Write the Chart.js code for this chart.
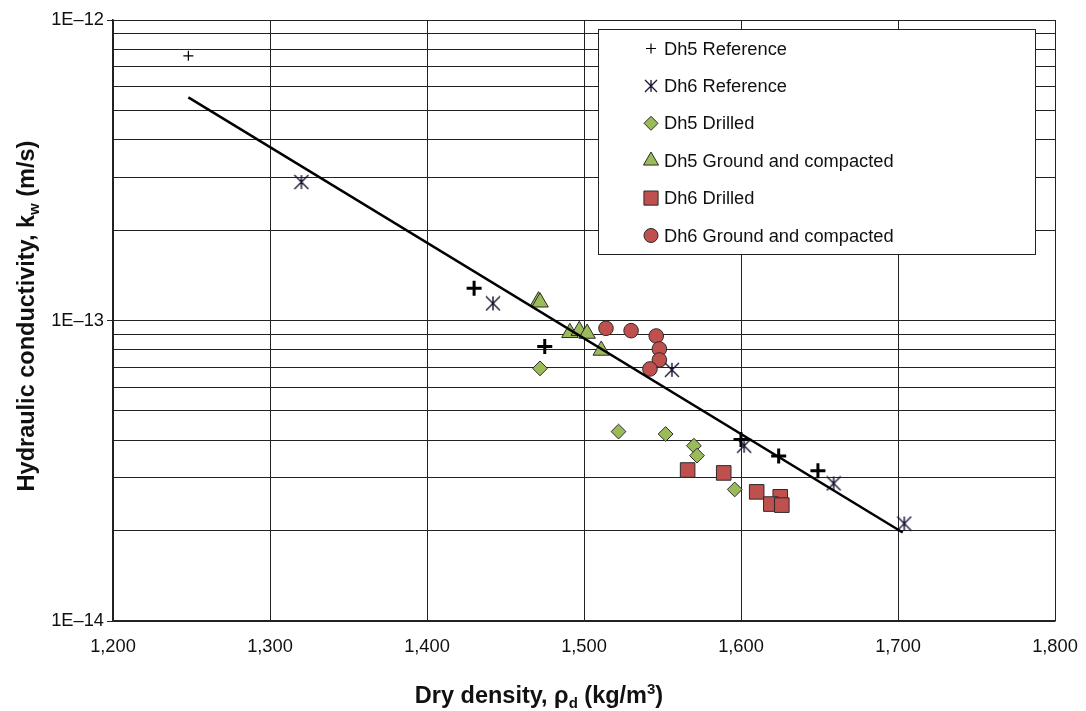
<!DOCTYPE html>
<html>
<head>
<meta charset="utf-8">
<script src="https://cdn.jsdelivr.net/npm/chart.js@4.4.1/dist/chart.umd.min.js"></script>
<style>
  html, body { margin: 0; background: #fff; }
  #wrap { width: 1086px; height: 711px; }
</style>
</head>
<body>
<div id="wrap"><canvas id="kw-chart"></canvas></div>
<script>
const FONT = "'Liberation Sans', Arial, Helvetica, sans-serif";

// dry density (kg/m3) and hydraulic conductivity kw (m/s)
const DH5_REF_X = [1248, 1430, 1475, 1600, 1624, 1649];
const DH5_REF_Y = [7.6e-13, 1.28e-13, 8.2e-14, 4.02e-14, 3.54e-14, 3.16e-14];
const DH6_REF_X = [1320, 1442, 1556, 1602, 1659, 1704];
const DH6_REF_Y = [2.89e-13, 1.14e-13, 6.85e-14, 3.83e-14, 2.87e-14, 2.11e-14];
const DH5_DRILL_X = [1472, 1522, 1552, 1570, 1572, 1596];
const DH5_DRILL_Y = [6.93e-14, 4.27e-14, 4.19e-14, 3.83e-14, 3.55e-14, 2.74e-14];
const DH5_GC_X = [1471, 1472, 1491, 1497, 1502, 1511];
const DH5_GC_Y = [1.16e-13, 1.15e-13, 9.1e-14, 9.25e-14, 9.05e-14, 7.95e-14];
const DH6_DRILL_X = [1566, 1589, 1610, 1625, 1619, 1626];
const DH6_DRILL_Y = [3.18e-14, 3.11e-14, 2.69e-14, 2.59e-14, 2.45e-14, 2.43e-14];
const DH6_GC_X = [1514, 1530, 1546, 1548, 1548, 1542];
const DH6_GC_Y = [9.42e-14, 9.25e-14, 8.88e-14, 8.04e-14, 7.39e-14, 6.9e-14];

// trend line end points
const FIT_X = [1248, 1703];
const FIT_Y = [5.53e-13, 1.97e-14];

const X_TICKS = [1200, 1300, 1400, 1500, 1600, 1700, 1800];
const Y_DECADES = [1e-14, 1e-13, 1e-12];
const Y_MANTISSAS = [1, 2, 3, 4, 5, 6, 7, 8, 9];

const GREEN = '#9bbb59';
const RED = '#c0504d';
const EDGE = '#2b2b2b';
const STAR_INK = '#121230';
const TICK_SIZE = 18.3;

const toPoints = (xs, ys) => xs.map((x, i) => ({x, y: ys[i]}));

// six-armed star marker (X with a vertical bar)
function makeStar(size, color, width) {
    const c = document.createElement('canvas');
    c.width = size;
    c.height = size;
    const g = c.getContext('2d');
    g.strokeStyle = color;
    g.lineWidth = width;
    const p = 1, q = size - 1, m = size / 2;
    g.beginPath();
    g.moveTo(p, p); g.lineTo(q, q);
    g.moveTo(q, p); g.lineTo(p, q);
    g.moveTo(m, p); g.lineTo(m, q);
    g.stroke();
    return c;
}
const STAR = makeStar(16, STAR_INK, 1.4);
const STAR_SMALL = makeStar(14, STAR_INK, 1.3);

const isDecade = v => {
    const e = Math.log10(v);
    return Math.abs(e - Math.round(e)) < 1e-6;
};

const series = [
    {label: 'Dh5 Reference', data: toPoints(DH5_REF_X, DH5_REF_Y), pointStyle: 'cross',
        pointRadius: [5, 7.5, 7.5, 7.5, 7.5, 7.5], pointBorderWidth: [1.2, 3, 3, 3, 3, 3],
        borderColor: '#000', backgroundColor: '#000',
        legend: {style: 'cross', radius: 5, width: 1.2, fill: '#000', stroke: '#000'}},
    {label: 'Dh6 Reference', data: toPoints(DH6_REF_X, DH6_REF_Y), pointStyle: STAR,
        pointRadius: 8, borderColor: STAR_INK, backgroundColor: STAR_INK,
        legend: {style: STAR_SMALL, radius: 7, width: 0, fill: '#000', stroke: '#000'}},
    {label: 'Dh5 Drilled', data: toPoints(DH5_DRILL_X, DH5_DRILL_Y), pointStyle: 'rectRot',
        pointRadius: 7.4, pointBorderWidth: 1, borderColor: EDGE, backgroundColor: GREEN,
        legend: {style: 'rectRot', radius: 7, width: 1, fill: GREEN, stroke: EDGE}},
    {label: 'Dh5 Ground and compacted', data: toPoints(DH5_GC_X, DH5_GC_Y), pointStyle: 'triangle',
        pointRadius: 9.5, pointBorderWidth: 1, borderColor: EDGE, backgroundColor: GREEN,
        legend: {style: 'triangle', radius: 8.7, width: 1, fill: GREEN, stroke: EDGE}},
    {label: 'Dh6 Drilled', data: toPoints(DH6_DRILL_X, DH6_DRILL_Y), pointStyle: 'rect',
        pointRadius: 10.3, pointBorderWidth: 1, borderColor: EDGE, backgroundColor: RED,
        legend: {style: 'rect', radius: 10, width: 1, fill: RED, stroke: EDGE}},
    {label: 'Dh6 Ground and compacted', data: toPoints(DH6_GC_X, DH6_GC_Y), pointStyle: 'circle',
        pointRadius: 7.3, pointBorderWidth: 1, borderColor: EDGE, backgroundColor: RED,
        legend: {style: 'circle', radius: 7, width: 1, fill: RED, stroke: EDGE}},
];

const datasets = series.map(s => ({
    label: s.label,
    data: s.data,
    pointStyle: s.pointStyle,
    pointRadius: s.pointRadius,
    pointBorderWidth: s.pointBorderWidth ?? 1,
    borderColor: s.borderColor,
    backgroundColor: s.backgroundColor,
    showLine: false,
}));
datasets.push({
    label: 'fit',
    data: toPoints(FIT_X, FIT_Y),
    showLine: true,
    pointRadius: 0,
    borderColor: '#000',
    borderWidth: 2.5,
    order: -1,
});

// legend box drawn by hand so marker sizes can follow each series
const legendBox = {
    id: 'legendBox',
    afterDraw(chart) {
        const ctx = chart.ctx;
        const left = 598, top = 29, right = 1035, bottom = 254;
        ctx.save();
        ctx.fillStyle = '#fff';
        ctx.fillRect(left, top, right - left, bottom - top);
        ctx.strokeStyle = '#222';
        ctx.lineWidth = 1;
        ctx.strokeRect(left + 0.5, top + 0.5, right - left, bottom - top);
        ctx.font = TICK_SIZE + 'px ' + FONT;
        ctx.textBaseline = 'middle';
        ctx.textAlign = 'left';
        series.forEach((s, i) => {
            const y = 48.5 + i * 37.4;
            const lg = s.legend;
            ctx.fillStyle = lg.fill;
            ctx.strokeStyle = lg.stroke;
            ctx.lineWidth = lg.width;
            Chart.helpers.drawPoint(ctx, {pointStyle: lg.style, radius: lg.radius, borderWidth: lg.width, rotation: 0}, 651, y);
            ctx.fillStyle = '#111';
            ctx.fillText(s.label, 664, y + 1);
        });
        ctx.restore();
    }
};

// axis titles with sub/superscripts
function drawRich(ctx, parts, x, y) {
    const big = 'bold 23.5px ' + FONT, small = 'bold 15px ' + FONT;
    let total = 0;
    parts.forEach(([t, k]) => { ctx.font = k === 'n' ? big : small; total += ctx.measureText(t).width; });
    let cx = x - total / 2;
    parts.forEach(([t, k]) => {
        ctx.font = k === 'n' ? big : small;
        const dy = k === 'sub' ? 5 : k === 'sup' ? -9 : 0;
        ctx.fillText(t, cx, y + dy);
        cx += ctx.measureText(t).width;
    });
}
const axisTitles = {
    id: 'axisTitles',
    afterDraw(chart) {
        const ctx = chart.ctx;
        ctx.save();
        ctx.fillStyle = '#111';
        ctx.textBaseline = 'alphabetic';
        ctx.textAlign = 'left';
        drawRich(ctx, [['Dry density, \u03c1', 'n'], ['d', 'sub'], [' (kg/m', 'n'], ['3', 'sup'], [')', 'n']], 539, 703);
        ctx.translate(34, 316);
        ctx.rotate(-Math.PI / 2);
        drawRich(ctx, [['Hydraulic conductivity, k', 'n'], ['w', 'sub'], [' (m/s)', 'n']], 0, 0);
        ctx.restore();
    }
};

new Chart(document.getElementById('kw-chart'), {
    type: 'scatter',
    data: {datasets},
    plugins: [legendBox, axisTitles],
    options: {
        responsive: true,
        maintainAspectRatio: false,
        animation: false,
        events: [],
        layout: {padding: {left: 0, top: 20, right: 31, bottom: 0}},
        plugins: {
            legend: {display: false},
            tooltip: {enabled: false},
        },
        scales: {
            x: {
                type: 'linear',
                min: X_TICKS[0],
                max: X_TICKS[X_TICKS.length - 1],
                afterBuildTicks(scale) {
                    scale.ticks = X_TICKS.map(value => ({value}));
                },
                afterFit(scale) {
                    scale.height = 90;
                    scale.paddingLeft = 0;
                    scale.paddingRight = 0;
                },
                grid: {color: '#222', lineWidth: 1, drawTicks: false},
                border: {color: '#222', width: 1.5},
                ticks: {
                    padding: 15,
                    color: '#111',
                    font: {family: FONT, size: TICK_SIZE},
                    callback: v => v.toLocaleString('en-US'),
                },
            },
            y: {
                type: 'logarithmic',
                min: Y_DECADES[0],
                max: Y_DECADES[Y_DECADES.length - 1],
                afterBuildTicks(scale) {
                    const top = Y_DECADES[Y_DECADES.length - 1];
                    scale.ticks = Y_DECADES
                        .flatMap(d => Y_MANTISSAS.map(m => m * d))
                        .filter(v => v <= top * 1.0001)
                        .map(value => ({value}));
                },
                afterFit(scale) { scale.width = 113; },
                grid: {
                    color: '#222',
                    lineWidth: 1,
                    tickLength: 6,
                    tickColor: c => (c.tick && isDecade(c.tick.value)) ? '#222' : 'rgba(0,0,0,0)',
                },
                border: {color: '#222', width: 1.5},
                ticks: {
                    autoSkip: false,
                    padding: 3,
                    color: '#111',
                    font: {family: FONT, size: TICK_SIZE},
                    callback(v) {
                        return isDecade(v) ? '1E\u2013' + Math.abs(Math.round(Math.log10(v))) : '';
                    },
                },
            },
        },
    },
});
</script>
</body>
</html>
